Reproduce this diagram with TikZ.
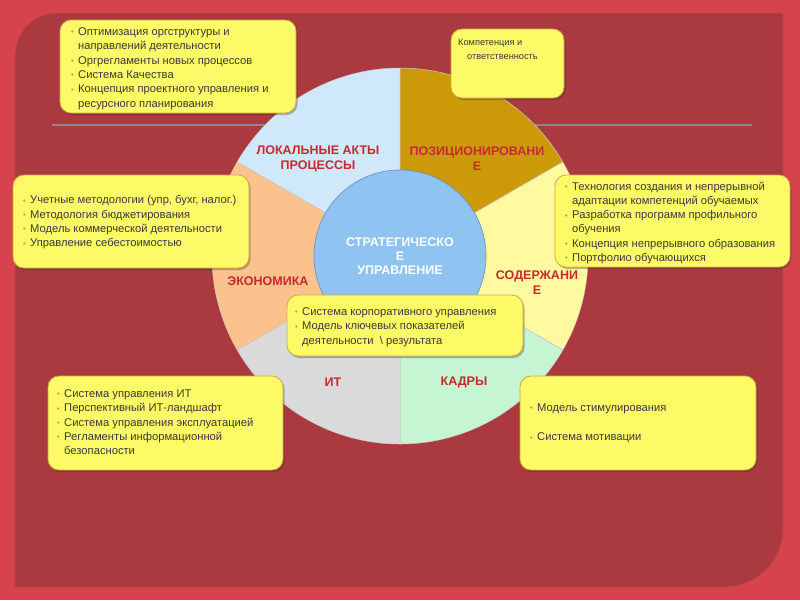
\documentclass[tikz,border=0pt]{standalone}
\usepackage{fontspec}
\setmainfont{Liberation Sans}
\usetikzlibrary{shadows}
\definecolor{outerred}{HTML}{D6434C}
\definecolor{panelred}{HTML}{AA3A3F}
\definecolor{panelline}{HTML}{C4454C}
\definecolor{hlinec}{HTML}{8A8A8A}
\definecolor{secblue}{HTML}{CFE9FA}
\definecolor{secgold}{HTML}{CC9A08}
\definecolor{secyellow}{HTML}{FFF9A0}
\definecolor{secgreen}{HTML}{C6F5D3}
\definecolor{secgray}{HTML}{DADADA}
\definecolor{secpeach}{HTML}{FCC28D}
\definecolor{inblue}{HTML}{8FC3F1}
\definecolor{inborder}{HTML}{6F94BC}
\definecolor{labred}{HTML}{C42A2E}
\definecolor{boxfill}{HTML}{FDFA67}
\definecolor{boxline}{HTML}{D9A646}
\definecolor{textgray}{HTML}{3A3A3A}
\definecolor{bulc}{HTML}{C8902A}
\newcommand{\bitem}[1]{\makebox[7pt][l]{\raisebox{0.6pt}{\fontsize{7.5}{7.5}\selectfont\color{bulc}•}}#1}
\newcommand{\bcont}[1]{\hspace*{7pt}#1}
\begin{document}
\begin{tikzpicture}[x=1pt,y=-1pt,
  sector/.style={draw=black!22, line width=0.5pt},
  seclabel/.style={font=\bfseries\fontsize{12.5}{14.5}\selectfont, text=labred, align=center, inner sep=0pt},
  core/.style={circle, fill=inblue, draw=inborder, line width=0.7pt, minimum size=172pt, inner sep=0pt,
    font=\bfseries\fontsize{12.5}{14}\selectfont, text=white, align=center},
  ybox/.style={rounded corners=11pt, fill=boxfill, draw=boxline, line width=0.8pt, inner sep=0pt,
    drop shadow={shadow xshift=1.5pt, shadow yshift=-2pt, opacity=0.35, fill=black!80}},
  btext/.style={anchor=north west, inner sep=0pt, align=left, text=textgray,
    font=\fontsize{11.2}{14.3}\selectfont}
]
\useasboundingbox (0,0) rectangle (800,600);
\fill[outerred] (0,0) rectangle (800,600);
\filldraw[fill=panelred, draw=panelline, line width=0.8pt]
  (15,587) -- (15,55) arc[start angle=180, end angle=90, radius=42pt]
  -- (783,13) -- (783,529) arc[start angle=0, end angle=-90, radius=58pt] -- cycle;
\draw[hlinec, line width=2pt] (52,125) -- (752,125);

% pie
\coordinate (c) at (400,256);
\filldraw[sector, fill=secblue]   (c) -- ++(90:188pt)  arc[start angle=90,  end angle=150, radius=188pt] -- cycle;
\filldraw[sector, fill=secgold]   (c) -- ++(30:188pt)  arc[start angle=30,  end angle=90,  radius=188pt] -- cycle;
\filldraw[sector, fill=secyellow] (c) -- ++(-30:188pt) arc[start angle=-30, end angle=30,  radius=188pt] -- cycle;
\filldraw[sector, fill=secgreen]  (c) -- ++(-90:188pt) arc[start angle=-90, end angle=-30, radius=188pt] -- cycle;
\filldraw[sector, fill=secgray]   (c) -- ++(210:188pt) arc[start angle=210, end angle=270, radius=188pt] -- cycle;
\filldraw[sector, fill=secpeach]  (c) -- ++(150:188pt) arc[start angle=150, end angle=210, radius=188pt] -- cycle;

\node[core] (core) at (c) {СТРАТЕГИЧЕСКО\\Е\\УПРАВЛЕНИЕ};

\node[seclabel] (lok) at (318,159) {ЛОКАЛЬНЫЕ АКТЫ\\ПРОЦЕССЫ};
\node[seclabel] (poz) at (477,158.5) {ПОЗИЦИОНИРОВАНИ\\Е};
\node[seclabel] (sod) at (537,282.5) {СОДЕРЖАНИ\\Е};
\node[seclabel] (eko) at (268,281) {ЭКОНОМИКА};
\node[seclabel] (it) at (333,382) {ИТ};
\node[seclabel] (kad) at (464,382) {КАДРЫ};

% boxes
\node[ybox, minimum width=236pt, minimum height=93pt] (b1) at (178,66.5) {};
\node[ybox, minimum width=113pt, minimum height=69pt] (b2) at (507.5,63.5) {};
\node[ybox, minimum width=236pt, minimum height=93pt] (b3) at (131,221.5) {};
\node[ybox, minimum width=235pt, minimum height=92pt] (b4) at (672.5,221) {};
\node[ybox, minimum width=236pt, minimum height=61pt] (b5) at (405,325.5) {};
\node[ybox, minimum width=235pt, minimum height=94pt] (b6) at (165.5,423) {};
\node[ybox, minimum width=236pt, minimum height=94pt] (b7) at (638,423) {};

\node[btext] (t1) at (71,27.5) {\bitem{Оптимизация оргструктуры и}\\\bcont{направлений деятельности}\\\bitem{Оргрегламенты новых процессов}\\\bitem{Система Качества}\\\bitem{Концепция проектного управления и}\\\bcont{ресурсного планирования}};
\node[btext, font=\fontsize{9.2}{14}\selectfont] (t2) at (458,39) {Компетенция и\\\hspace*{9pt}ответственность};
\node[btext] (t3) at (23,195.5) {\bitem{Учетные методологии (упр, бухг, налог.)}\\\bitem{Методология бюджетирования}\\\bitem{Модель коммерческой деятельности}\\\bitem{Управление себестоимостью}};
\node[btext] (t4) at (565,181.5) {\bitem{Технология создания и непрерывной}\\\bcont{адаптации компетенций обучаемых}\\\bitem{Разработка программ профильного}\\\bcont{обучения}\\\bitem{Концепция непрерывного образования}\\\bitem{Портфолио обучающихся}};
\node[btext] (t5) at (295,307.5) {\bitem{Система корпоративного управления}\\\bitem{Модель ключевых показателей}\\\bcont{деятельности~ \textbackslash{} результата}};
\node[btext] (t6) at (57,389.5) {\bitem{Система управления ИТ}\\\bitem{Перспективный ИТ-ландшафт}\\\bitem{Система управления эксплуатацией}\\\bitem{Регламенты информационной}\\\bcont{безопасности}};
\node[btext] (t7) at (530,403.5) {\bitem{Модель стимулирования}\\[15pt]\bitem{Система мотивации}};
\end{tikzpicture}
\end{document}
